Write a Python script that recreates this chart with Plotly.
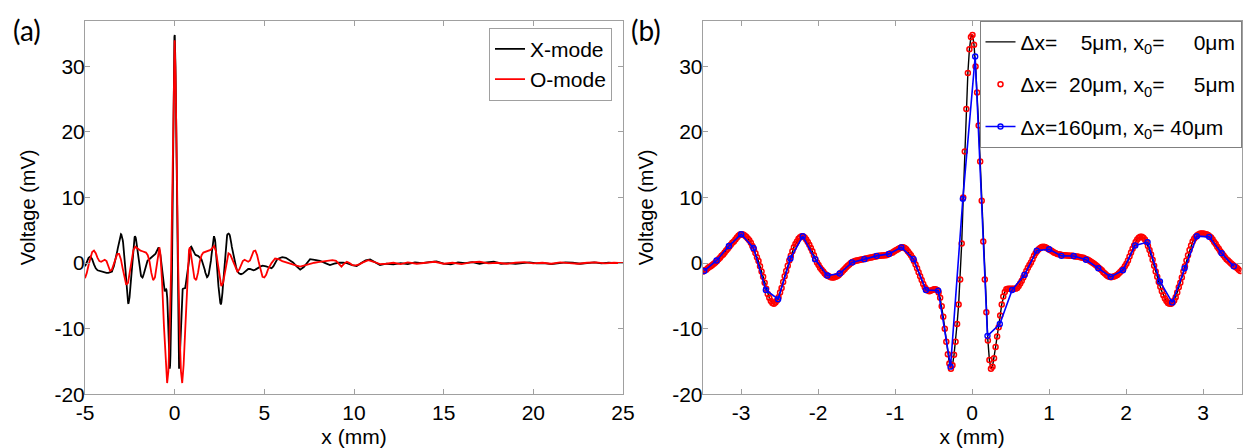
import numpy as np
import plotly.graph_objects as go

# ---------------- Panel (b): X-mode signal sampled on 20 um grid (x0 = 5 um) ----------------
dx_red, x0_red = 0.020, 0.005          # mm
dx_blue, x0_blue = 0.160, 0.040        # mm

v_b = [
    -1.3, -1.1, -1.0, -0.8, -0.6, -0.5, -0.3, -0.1, 0.1, 0.3,
    0.6, 0.8, 1.1, 1.3, 1.6, 1.9, 2.2, 2.5, 2.8, 3.1,
    3.3, 3.6, 3.9, 4.15, 4.35, 4.4, 4.35, 4.2, 4.0, 3.75,
    3.5, 3.1, 2.6, 2.1, 1.5, 0.9, 0.3, -0.5, -1.3, -2.1,
    -3.0, -3.9, -4.7, -5.3, -5.8, -6.1, -6.2, -6.0, -5.7, -5.2,
    -4.5, -3.8, -2.9, -2.0, -1.2, -0.4, 0.4, 1.1, 1.8, 2.4,
    2.9, 3.3, 3.7, 3.95, 4.1, 4.05, 3.9, 3.6, 3.2, 2.8,
    2.3, 1.8, 1.2, 0.6, 0.1, -0.3, -0.7, -1.0, -1.3, -1.6,
    -1.8, -1.95, -2.05, -2.15, -2.2, -2.2, -2.1, -2.0, -1.85, -1.6,
    -1.4, -1.15, -0.9, -0.65, -0.4, -0.2, 0.0, 0.15, 0.25, 0.35,
    0.4, 0.45, 0.5, 0.55, 0.6, 0.65, 0.7, 0.75, 0.8, 0.85,
    0.9, 0.95, 1.0, 1.05, 1.1, 1.1, 1.15, 1.15, 1.2, 1.2,
    1.3, 1.4, 1.5, 1.6, 1.75, 1.9, 2.05, 2.2, 2.3, 2.4,
    2.4, 2.3, 2.1, 1.8, 1.5, 1.2, 0.8, 0.3, -0.2, -0.8,
    -1.4, -2.0, -2.6, -3.2, -3.7, -4.0, -4.2, -4.3, -4.2, -4.1,
    -4.0, -4.0, -4.1, -4.5, -5.3, -6.6, -8.2, -10.0, -12.0, -13.9,
    -15.3, -16.1, -15.6, -14.0, -12.0, -9.3, -6.3, -2.5, 3.0, 10.0,
    17.0, 23.5, 29.0, 32.6, 34.5, 34.8, 33.3, 30.0, 26.0, 21.0,
    15.5, 9.5, 3.3, -2.5, -7.5, -11.8, -14.8, -16.1, -15.8, -14.5,
    -12.8, -11.2, -9.8, -8.0, -6.3, -5.1, -4.4, -4.0, -3.9, -3.9,
    -3.9, -3.9, -3.9, -3.9, -3.8, -3.5, -3.1, -2.7, -2.2, -1.7,
    -1.2, -0.7, -0.3, 0.1, 0.6, 1.1, 1.5, 1.85, 2.1, 2.3,
    2.45, 2.5, 2.45, 2.35, 2.2, 2.05, 1.9, 1.75, 1.6, 1.5,
    1.4, 1.35, 1.3, 1.25, 1.2, 1.2, 1.15, 1.15, 1.1, 1.1,
    1.1, 1.05, 1.0, 1.0, 0.95, 0.9, 0.85, 0.8, 0.7, 0.6,
    0.5, 0.35, 0.2, 0.05, -0.1, -0.3, -0.5, -0.7, -0.9, -1.1,
    -1.4, -1.6, -1.8, -2.0, -2.1, -2.15, -2.1, -2.05, -1.95, -1.8,
    -1.6, -1.35, -1.1, -0.85, -0.5, -0.1, 0.4, 1.0, 1.6, 2.2,
    2.7, 3.2, 3.6, 3.85, 4.0, 4.0, 3.85, 3.6, 3.2, 2.6,
    2.0, 1.3, 0.5, -0.4, -1.3, -2.1, -2.9, -3.6, -4.3, -4.9,
    -5.4, -5.8, -6.1, -6.2, -6.2, -6.0, -5.7, -5.2, -4.5, -3.7,
    -3.0, -2.2, -1.3, -0.5, 0.4, 1.2, 2.0, 2.7, 3.3, 3.7,
    4.0, 4.25, 4.4, 4.5, 4.5, 4.5, 4.45, 4.4, 4.3, 4.1,
    3.9, 3.6, 3.2, 2.9, 2.5, 2.2, 1.8, 1.5, 1.2, 0.9,
    0.6, 0.4, 0.15, -0.05, -0.25, -0.45, -0.6, -0.8, -1.0, -1.2,
]
x_b = [round(x0_red + dx_red * k, 3) for k in range(-175, -175 + len(v_b))]

v_blue = [-1.2, 0.4, 2.6, 4.4, 2.3, -4.1, -5.5, 0.7, 4.1, 0.6, -1.9, -1.6, 0.1, 0.6,
          1.1, 1.4, 2.4, 0.6, -4.1, -4.2, -15.8, 9.8, 31.5, -11.1, -9.3, -4.1, -1.8,
          1.9, 2.1, 1.1, 1.07, 0.5, -0.8, -2.1, -1.1, 2.7, 3.2, -2.8, -6.0, -0.8,
          4.1, 4.0, 1.5, -0.5]
x_blue = [round(x0_blue + dx_blue * k, 3) for k in range(-22, -22 + len(v_blue))]

# ---------------- Panel (a) ----------------
# X-mode outside the zoomed window of panel (b)
xl_x = [-5.0, -4.9, -4.8, -4.7, -4.6, -4.5, -4.4, -4.3, -4.2, -4.1, -4.0, -3.9, -3.8, -3.7, -3.6]
xl_v = [-0.5, 0.2, 0.8, 1.0, 0.6, -0.2, -0.8, -1.1, -1.2, -1.3, -1.3, -1.4, -1.5, -1.5, -1.4]
xr_x = [3.6, 3.7, 3.8, 3.9, 4.0, 4.1, 4.2, 4.3, 4.4, 4.5, 4.6, 4.7, 4.8, 4.9, 5.0, 5.1, 5.2,
        5.3, 5.4, 5.5, 5.6, 5.7, 5.8, 5.9, 6.0, 6.2, 6.4, 6.6, 6.8, 7.0, 7.2, 7.4, 7.55,
        7.8, 8.1, 8.4, 8.66, 8.9, 9.13, 9.4, 9.6, 9.9, 10.15, 10.4, 10.65, 10.9, 11.2,
        11.45, 11.8, 12.2, 12.6, 13.0, 13.4, 13.8, 14.2, 14.6, 15.0, 15.4, 15.8, 16.2,
        16.6, 17.0, 17.4, 17.8, 18.2, 18.6, 19.0, 19.4, 19.8, 20.2, 20.6, 21.0, 21.4,
        21.8, 22.2, 22.6, 23.0, 23.4, 23.8, 24.2, 24.6, 25.0]
xr_v = [-1.6, -1.7, -1.6, -1.4, -1.2, -0.9, -0.9, -1.0, -1.1, -1.0, -0.8, -0.6, -0.5, -0.4,
        -0.4, -0.5, -0.6, -0.7, -0.8, -0.5, 0.0, 0.5, 0.7, 0.8, 0.9, 0.8, 0.4, 0.1, -0.5,
        -1.0, -0.6, 0.2, 0.6, 0.5, 0.35, 0.0, -0.3, -0.1, 0.05, 0.05, 0.0, -0.3, -0.45,
        0.0, 0.4, 0.55, 0.1, -0.3, -0.1, -0.2, 0.0, -0.15, 0.1, 0.0, 0.15, 0.25, -0.1,
        -0.2, 0.1, 0.0, 0.15, -0.1, 0.1, 0.2, -0.1, 0.0, -0.1, 0.05, 0.1, -0.05, 0.0,
        -0.15, -0.05, 0.1, 0.05, -0.1, 0.0, 0.1, -0.05, 0.05, 0.0, 0.0]

# O-mode
xo = [-5.0, -4.9, -4.8, -4.7, -4.6, -4.5, -4.4, -4.3, -4.2, -4.1, -4.0, -3.9, -3.8, -3.7,
      -3.6, -3.5, -3.4, -3.3, -3.2, -3.1, -3.0, -2.9, -2.8, -2.7, -2.6, -2.5, -2.4, -2.3,
      -2.2, -2.1, -2.0, -1.9, -1.8, -1.7, -1.6, -1.5, -1.4, -1.3, -1.2, -1.1, -1.0, -0.9,
      -0.85, -0.8, -0.7, -0.6, -0.5, -0.42, -0.35, -0.3, -0.2, -0.1, -0.05, 0.0, 0.05,
      0.1, 0.2, 0.3, 0.35, 0.42, 0.5, 0.6, 0.7, 0.8, 0.85, 0.9, 1.0, 1.1, 1.2, 1.3, 1.4,
      1.5, 1.6, 1.7, 1.8, 1.9, 2.0, 2.1, 2.2, 2.3, 2.4, 2.5, 2.6, 2.7, 2.8, 2.9, 3.0,
      3.1, 3.2, 3.3, 3.4, 3.5, 3.6, 3.7, 3.8, 3.9, 4.0, 4.1, 4.2, 4.3, 4.4, 4.5, 4.6,
      4.7, 4.8, 4.9, 5.0, 5.1, 5.2, 5.4, 5.6, 5.8, 6.0, 6.2, 6.4, 6.6, 6.8, 7.0, 7.2,
      7.4, 7.6, 7.8, 8.0, 8.3, 8.6, 8.8, 9.0, 9.15, 9.3, 9.45, 9.6, 9.75, 9.9, 10.1,
      10.3, 10.5, 10.8, 11.1, 11.45, 11.8, 12.2, 12.6, 13.0, 13.5, 14.0, 14.5, 15.0,
      15.5, 16.0, 16.5, 17.0, 17.5, 18.0, 18.5, 19.0, 19.5, 20.0, 20.5, 21.0, 21.5,
      22.0, 22.5, 23.0, 23.5, 24.0, 24.5, 25.0]
vo = [-2.3, -1.5, -0.3, 0.9, 1.7, 1.9, 1.5, 0.8, 0.3, 0.2, 0.4, 0.5, 0.3, -0.4,
      -1.2, -1.0, -0.2, 0.7, 1.4, 1.4, 0.6, -0.8, -2.3, -3.3, -3.0, -1.5, 0.5, 2.0,
      2.5, 2.3, 2.0, 1.9, 1.8, 1.7, 1.6, 1.2, 0.2, -1.5, -2.6, -2.2, -0.5, 1.8,
      2.4, 1.5, -3.0, -9.5, -15.5, -18.3, -16.5, -12.5, -1.0, 18.0, 28.5, 34.0, 28.5,
      18.0, -1.0, -12.5, -16.5, -18.3, -15.5, -9.5, -3.0, 2.0, 2.4, 1.5, -0.8, -2.3, -2.6, -1.5, 0.2,
      1.2, 1.6, 1.7, 1.8, 1.9, 2.0, 2.3, 2.6, 1.8, 0.0, -2.0, -3.5, -3.0, -1.5, 0.3, 1.5,
      1.3, 0.6, -0.2, -0.9, -1.3, -1.0, -0.3, 0.3, 0.5, 0.4, 0.2, 0.4, 1.0, 1.8, 1.9, 1.2,
      0.0, -1.2, -2.1, -2.2, -1.8, -1.0, 0.0, 0.7, 0.6, 0.3, 0.1, -0.05, -0.2, -0.4, -0.55, -0.4,
      -0.15, -0.05, 0.05, 0.15, 0.3, 0.45, 0.45, 0.35, -0.1, -0.55, -0.1, 0.2, 0.0, -0.3, -0.35,
      -0.2, 0.1, 0.45, 0.2, -0.15, -0.1, 0.05, -0.15, 0.1, -0.1, 0.1, 0.2, -0.1,
      0.05, -0.15, 0.1, 0.2, -0.05, 0.05, -0.1, 0.05, 0.15, -0.05, 0.05, -0.1, 0.1,
      0.0, -0.1, 0.05, 0.1, -0.05, 0.05, 0.0]

xa_x = xl_x + x_b + xr_x
xa_v = xl_v + v_b + xr_v

xticks_a = [-5, 0, 5, 10, 15, 20, 25]
xtext_a = ["-5", "0", "5", "10", "15", "20", "25"]
xticks_b = [-3, -2, -1, 0, 1, 2, 3]
xtext_b = ["-3", "-2", "-1", "0", "1", "2", "3"]
yticks = [-20, -10, 0, 10, 20, 30]
ytext = ["-20", "-10", "0", "10", "20", "30"]

legend_b = ["Δx=\u00a0\u00a0\u00a0\u00a05μm, x<sub>0</sub>=\u00a0\u00a0\u00a0\u00a0\u00a00μm",
            "Δx=\u00a0\u00a020μm, x<sub>0</sub>=\u00a0\u00a0\u00a0\u00a0\u00a05μm",
            "Δx=160μm, x<sub>0</sub>=\u00a040μm"]

FONT = "Arial, 'Liberation Sans', sans-serif"
W, H = 1243, 448
AX = "#a0a0a0"

fig = go.Figure()
fig.add_trace(go.Scatter(x=xa_x, y=xa_v, mode="lines", name="X-mode",
                         line=dict(color="black", width=1.8), xaxis="x", yaxis="y", legend="legend"))
fig.add_trace(go.Scatter(x=xo, y=vo, mode="lines", name="O-mode",
                         line=dict(color="#ff0000", width=1.8), xaxis="x", yaxis="y", legend="legend"))

fig.add_trace(go.Scatter(x=x_b, y=v_b, mode="lines", name=legend_b[0], legendgroup="g1",
                         line=dict(color="black", width=1.4), xaxis="x2", yaxis="y2", legend="legend2"))
fig.add_trace(go.Scatter(x=x_b, y=v_b, mode="markers", name=legend_b[1], legendgroup="g2",
                         marker=dict(symbol="circle-open", size=5, color="#ff0000", line=dict(width=1.5)),
                         xaxis="x2", yaxis="y2", legend="legend2"))
fig.add_trace(go.Scatter(x=x_blue, y=v_blue, mode="lines+markers", name=legend_b[2], legendgroup="g3",
                         line=dict(color="#0000ff", width=1.6),
                         marker=dict(symbol="circle-open", size=5, color="#0000ff", line=dict(width=1.4)),
                         xaxis="x2", yaxis="y2", legend="legend2"))

ydom = [1 - 394.2 / H, 1 - 20.5 / H]
axis_common = dict(showline=True, linecolor=AX, linewidth=1, mirror="ticks", ticks="inside",
                   ticklen=5, tickcolor=AX, showgrid=False, zeroline=False, automargin=False,
                   tickfont=dict(family=FONT, size=21, color="black"))

fig.update_layout(
    template="none",
    width=W, height=H, margin=dict(l=0, r=0, t=0, b=0, pad=0),
    paper_bgcolor="white", plot_bgcolor="white",
    font=dict(family=FONT, size=20, color="black"),
    xaxis=dict(domain=[85 / W, 623 / W], range=[-5, 25], anchor="y",
               tickvals=xticks_a, ticktext=xtext_a,
               title=dict(text="x (mm)", font=dict(size=21)), **axis_common),
    yaxis=dict(domain=ydom, range=[-20, 37], anchor="x", tickvals=yticks, ticktext=ytext,
               ticklabelstandoff=-5,
               title=dict(text="Voltage (mV)", font=dict(size=20)), **axis_common),
    xaxis2=dict(domain=[702.7 / W, 1241.5 / W], range=[-3.5, 3.5], anchor="y2",
                tickvals=xticks_b, ticktext=xtext_b,
                title=dict(text="x (mm)", font=dict(size=21)), **axis_common),
    yaxis2=dict(domain=ydom, range=[-20, 37], anchor="x2", tickvals=yticks, ticktext=ytext,
                ticklabelstandoff=-5,
                title=dict(text="Voltage (mV)", font=dict(size=20)), **axis_common),
    legend=dict(x=612 / W, y=1 - 27.7 / H, xanchor="right", yanchor="top",
                bgcolor="white", bordercolor=AX, borderwidth=1, itemwidth=30,
                font=dict(family=FONT, size=21, color="black")),
    legend2=dict(x=1241.5 / W, y=1 - 20.7 / H, xanchor="right", yanchor="top",
                 bgcolor="white", bordercolor="#808080", borderwidth=1, itemwidth=30,
                 tracegroupgap=12,
                 font=dict(family=FONT, size=21, color="black")),
    annotations=[
        dict(text="(a)", x=27 / W, y=1 - 30 / H, xref="paper", yref="paper", showarrow=False,
             xanchor="center", yanchor="middle",
             font=dict(family="Lato, 'Open Sans', sans-serif", size=28, color="black")),
        dict(text="(b)", x=646 / W, y=1 - 30 / H, xref="paper", yref="paper", showarrow=False,
             xanchor="center", yanchor="middle",
             font=dict(family="Lato, 'Open Sans', sans-serif", size=28, color="black")),
    ],
)

fig.write_html("out.html", config={"displayModeBar": False},
               post_script="document.body.style.margin='0px';")
